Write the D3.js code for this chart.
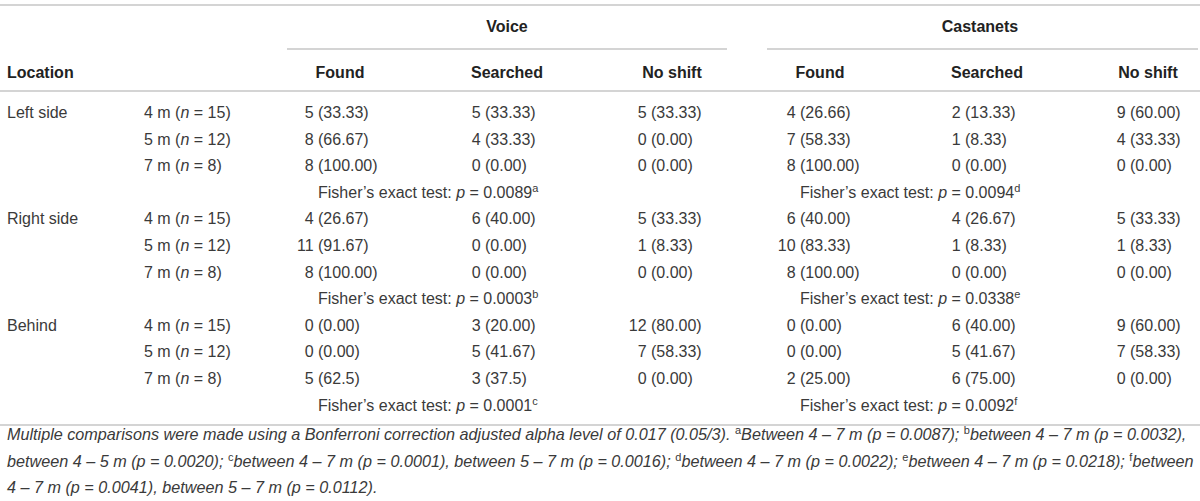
<!DOCTYPE html>
<html>
<head>
<meta charset="utf-8">
<script src="https://cdn.jsdelivr.net/npm/d3@7"></script>
<style>
    body { margin: 0; background: #fff; }
    svg { display: block; font-family: "Liberation Sans", Arial, sans-serif; }
</style>
</head>
<body>
<svg id="table" width="1200" height="501"></svg>
<script>
// Table content
const locations = ["Left side", "Right side", "Behind"];
const distances = ["4 m", "5 m", "7 m"];
const sampleSizes = [15, 12, 8];
const stimuli = ["Voice", "Castanets"];
const outcomes = ["Found", "Searched", "No shift"];

// counts [location][distance][outcome], percentages kept as printed
const voiceCounts = [
    [[5, 5, 5], [8, 4, 0], [8, 0, 0]],
    [[4, 6, 5], [11, 0, 1], [8, 0, 0]],
    [[0, 3, 12], [0, 5, 7], [5, 3, 0]]
];
const voicePercents = [
    [["33.33", "33.33", "33.33"], ["66.67", "33.33", "0.00"], ["100.00", "0.00", "0.00"]],
    [["26.67", "40.00", "33.33"], ["91.67", "0.00", "8.33"], ["100.00", "0.00", "0.00"]],
    [["0.00", "20.00", "80.00"], ["0.00", "41.67", "58.33"], ["62.5", "37.5", "0.00"]]
];
const castanetsCounts = [
    [[4, 2, 9], [7, 1, 4], [8, 0, 0]],
    [[6, 4, 5], [10, 1, 1], [8, 0, 0]],
    [[0, 6, 9], [0, 5, 7], [2, 6, 0]]
];
const castanetsPercents = [
    [["26.66", "13.33", "60.00"], ["58.33", "8.33", "33.33"], ["100.00", "0.00", "0.00"]],
    [["40.00", "26.67", "33.33"], ["83.33", "8.33", "8.33"], ["100.00", "0.00", "0.00"]],
    [["0.00", "40.00", "60.00"], ["0.00", "41.67", "58.33"], ["25.00", "75.00", "0.00"]]
];
const voiceFisher = ["0.0089", "0.0003", "0.0001"];
const voiceMarks = ["a", "b", "c"];
const castanetsFisher = ["0.0094", "0.0338", "0.0092"];
const castanetsMarks = ["d", "e", "f"];

// footnote lines, [text, italic?, superscript?]
const footnoteLines = [
    [["Multiple comparisons were made using a Bonferroni correction adjusted alpha level of 0.017 (0.05/3). ", 1, 0], ["a", 0, 1],
     ["Between 4 \u2013 7 m (p = 0.0087); ", 1, 0], ["b", 0, 1], ["between 4 \u2013 7 m (p = 0.0032),", 1, 0]],
    [["between 4 \u2013 5 m (p = 0.0020); ", 1, 0], ["c", 0, 1], ["between 4 \u2013 7 m (p = 0.0001), between 5 \u2013 7 m (p = 0.0016); ", 1, 0],
     ["d", 0, 1], ["between 4 \u2013 7 m (p = 0.0022); ", 1, 0], ["e", 0, 1], ["between 4 \u2013 7 m (p = 0.0218); ", 1, 0], ["f", 0, 1], ["between", 1, 0]],
    [["4 \u2013 7 m (p = 0.0041), between 5 \u2013 7 m (p = 0.0112).", 1, 0]]
];

const svg = d3.select("#table");
const W = 1200;
const textColor = "#3a3a3a";
const headColor = "#222";
const ruleColor = "#d4d4d4";
const fontSize = 16;

// column keys and positions (x of the opening paren of each cell)
const colKeys = [];
stimuli.forEach(s => outcomes.forEach(o => colKeys.push(s + "|" + o)));
const parenX = d3.scaleOrdinal().domain(colKeys).range([318, 485, 651, 800, 965, 1130]);
const headX = d3.scaleOrdinal().domain(colKeys).range([340, 507, 672, 820, 987, 1148]);
const groupX = d3.scaleOrdinal().domain(stimuli).range([507, 980]);
const groupRule = d3.scaleOrdinal().domain(stimuli).range([[287, 727], [767, 1198]]);

// body rows: 3 locations x (3 distances + Fisher row)
const rowY = d3.scaleLinear().domain([0, 11]).range([118, 410.5]);

// rules
const rules = [[0, W, 5], [0, W, 91], [0, W, 425]];
svg.selectAll("line.rule")
    .data(rules)
    .enter()
    .append("line")
    .attr("class", "rule")
    .attr("x1", d => d[0]).attr("x2", d => d[1])
    .attr("y1", d => d[2]).attr("y2", d => d[2])
    .attr("stroke", ruleColor)
    .attr("stroke-width", 1.8);

svg.selectAll("line.grule")
    .data(stimuli)
    .enter()
    .append("line")
    .attr("class", "grule")
    .attr("x1", d => groupRule(d)[0]).attr("x2", d => groupRule(d)[1])
    .attr("y1", 49).attr("y2", 49)
    .attr("stroke", ruleColor)
    .attr("stroke-width", 1.8);

// header
svg.selectAll("text.group")
    .data(stimuli)
    .enter()
    .append("text")
    .attr("class", "group")
    .attr("x", d => groupX(d))
    .attr("y", 32)
    .attr("text-anchor", "middle")
    .attr("font-size", fontSize)
    .attr("font-weight", "bold")
    .attr("fill", headColor)
    .text(d => d);

svg.append("text")
    .attr("x", 7).attr("y", 78)
    .attr("font-size", fontSize)
    .attr("font-weight", "bold")
    .attr("fill", headColor)
    .text("Location");

svg.selectAll("text.colhead")
    .data(colKeys)
    .enter()
    .append("text")
    .attr("class", "colhead")
    .attr("x", d => headX(d))
    .attr("y", 78)
    .attr("text-anchor", "middle")
    .attr("font-size", fontSize)
    .attr("font-weight", "bold")
    .attr("fill", headColor)
    .text(d => d.split("|")[1]);

// body
const body = svg.append("g")
    .attr("font-size", fontSize)
    .attr("fill", textColor);

locations.forEach((loc, li) => {
    const base = li * 4;
    body.append("text")
        .attr("x", 7).attr("y", rowY(base))
        .text(loc);

    distances.forEach((dist, di) => {
        const y = rowY(base + di);
        const t = body.append("text").attr("x", 144).attr("y", y);
        t.append("tspan").text(dist + " (");
        t.append("tspan").attr("font-style", "italic").text("n");
        t.append("tspan").text(" = " + sampleSizes[di] + ")");

        stimuli.forEach(s => {
            const counts = s === "Voice" ? voiceCounts : castanetsCounts;
            const pcts = s === "Voice" ? voicePercents : castanetsPercents;
            outcomes.forEach((o, oi) => {
                const key = s + "|" + o;
                body.append("text")
                    .attr("x", parenX(key) - 4.4)
                    .attr("y", y)
                    .attr("text-anchor", "end")
                    .text(counts[li][di][oi]);
                body.append("text")
                    .attr("x", parenX(key))
                    .attr("y", y)
                    .text("(" + pcts[li][di][oi] + ")");
            });
        });
    });

    // Fisher's exact test row
    stimuli.forEach(s => {
        const p = s === "Voice" ? voiceFisher[li] : castanetsFisher[li];
        const m = s === "Voice" ? voiceMarks[li] : castanetsMarks[li];
        const t = body.append("text")
            .attr("x", parenX(s + "|Found"))
            .attr("y", rowY(base + 3));
        t.append("tspan").text("Fisher\u2019s exact test: ");
        t.append("tspan").attr("font-style", "italic").text("p");
        t.append("tspan").text(" = " + p);
        t.append("tspan").attr("font-size", 11).attr("dy", -6).text(m);
    });
});

// footnote
const footY = d3.scaleLinear().domain([0, 2]).range([440, 493]);
footnoteLines.forEach((parts, i) => {
    const t = svg.append("text")
        .attr("x", 7)
        .attr("y", footY(i))
        .attr("font-size", 16.2)
        .attr("fill", textColor)
        .attr("xml:space", "preserve");
    let raised = false;
    parts.forEach(([txt, ital, sup]) => {
        const sp = t.append("tspan")
            .attr("font-style", ital ? "italic" : "normal")
            .text(txt);
        if (sup) {
            sp.attr("font-size", 11).attr("dy", -6);
            raised = true;
        } else if (raised) {
            sp.attr("dy", 6);
            raised = false;
        }
    });
});
</script>
</body>
</html>
